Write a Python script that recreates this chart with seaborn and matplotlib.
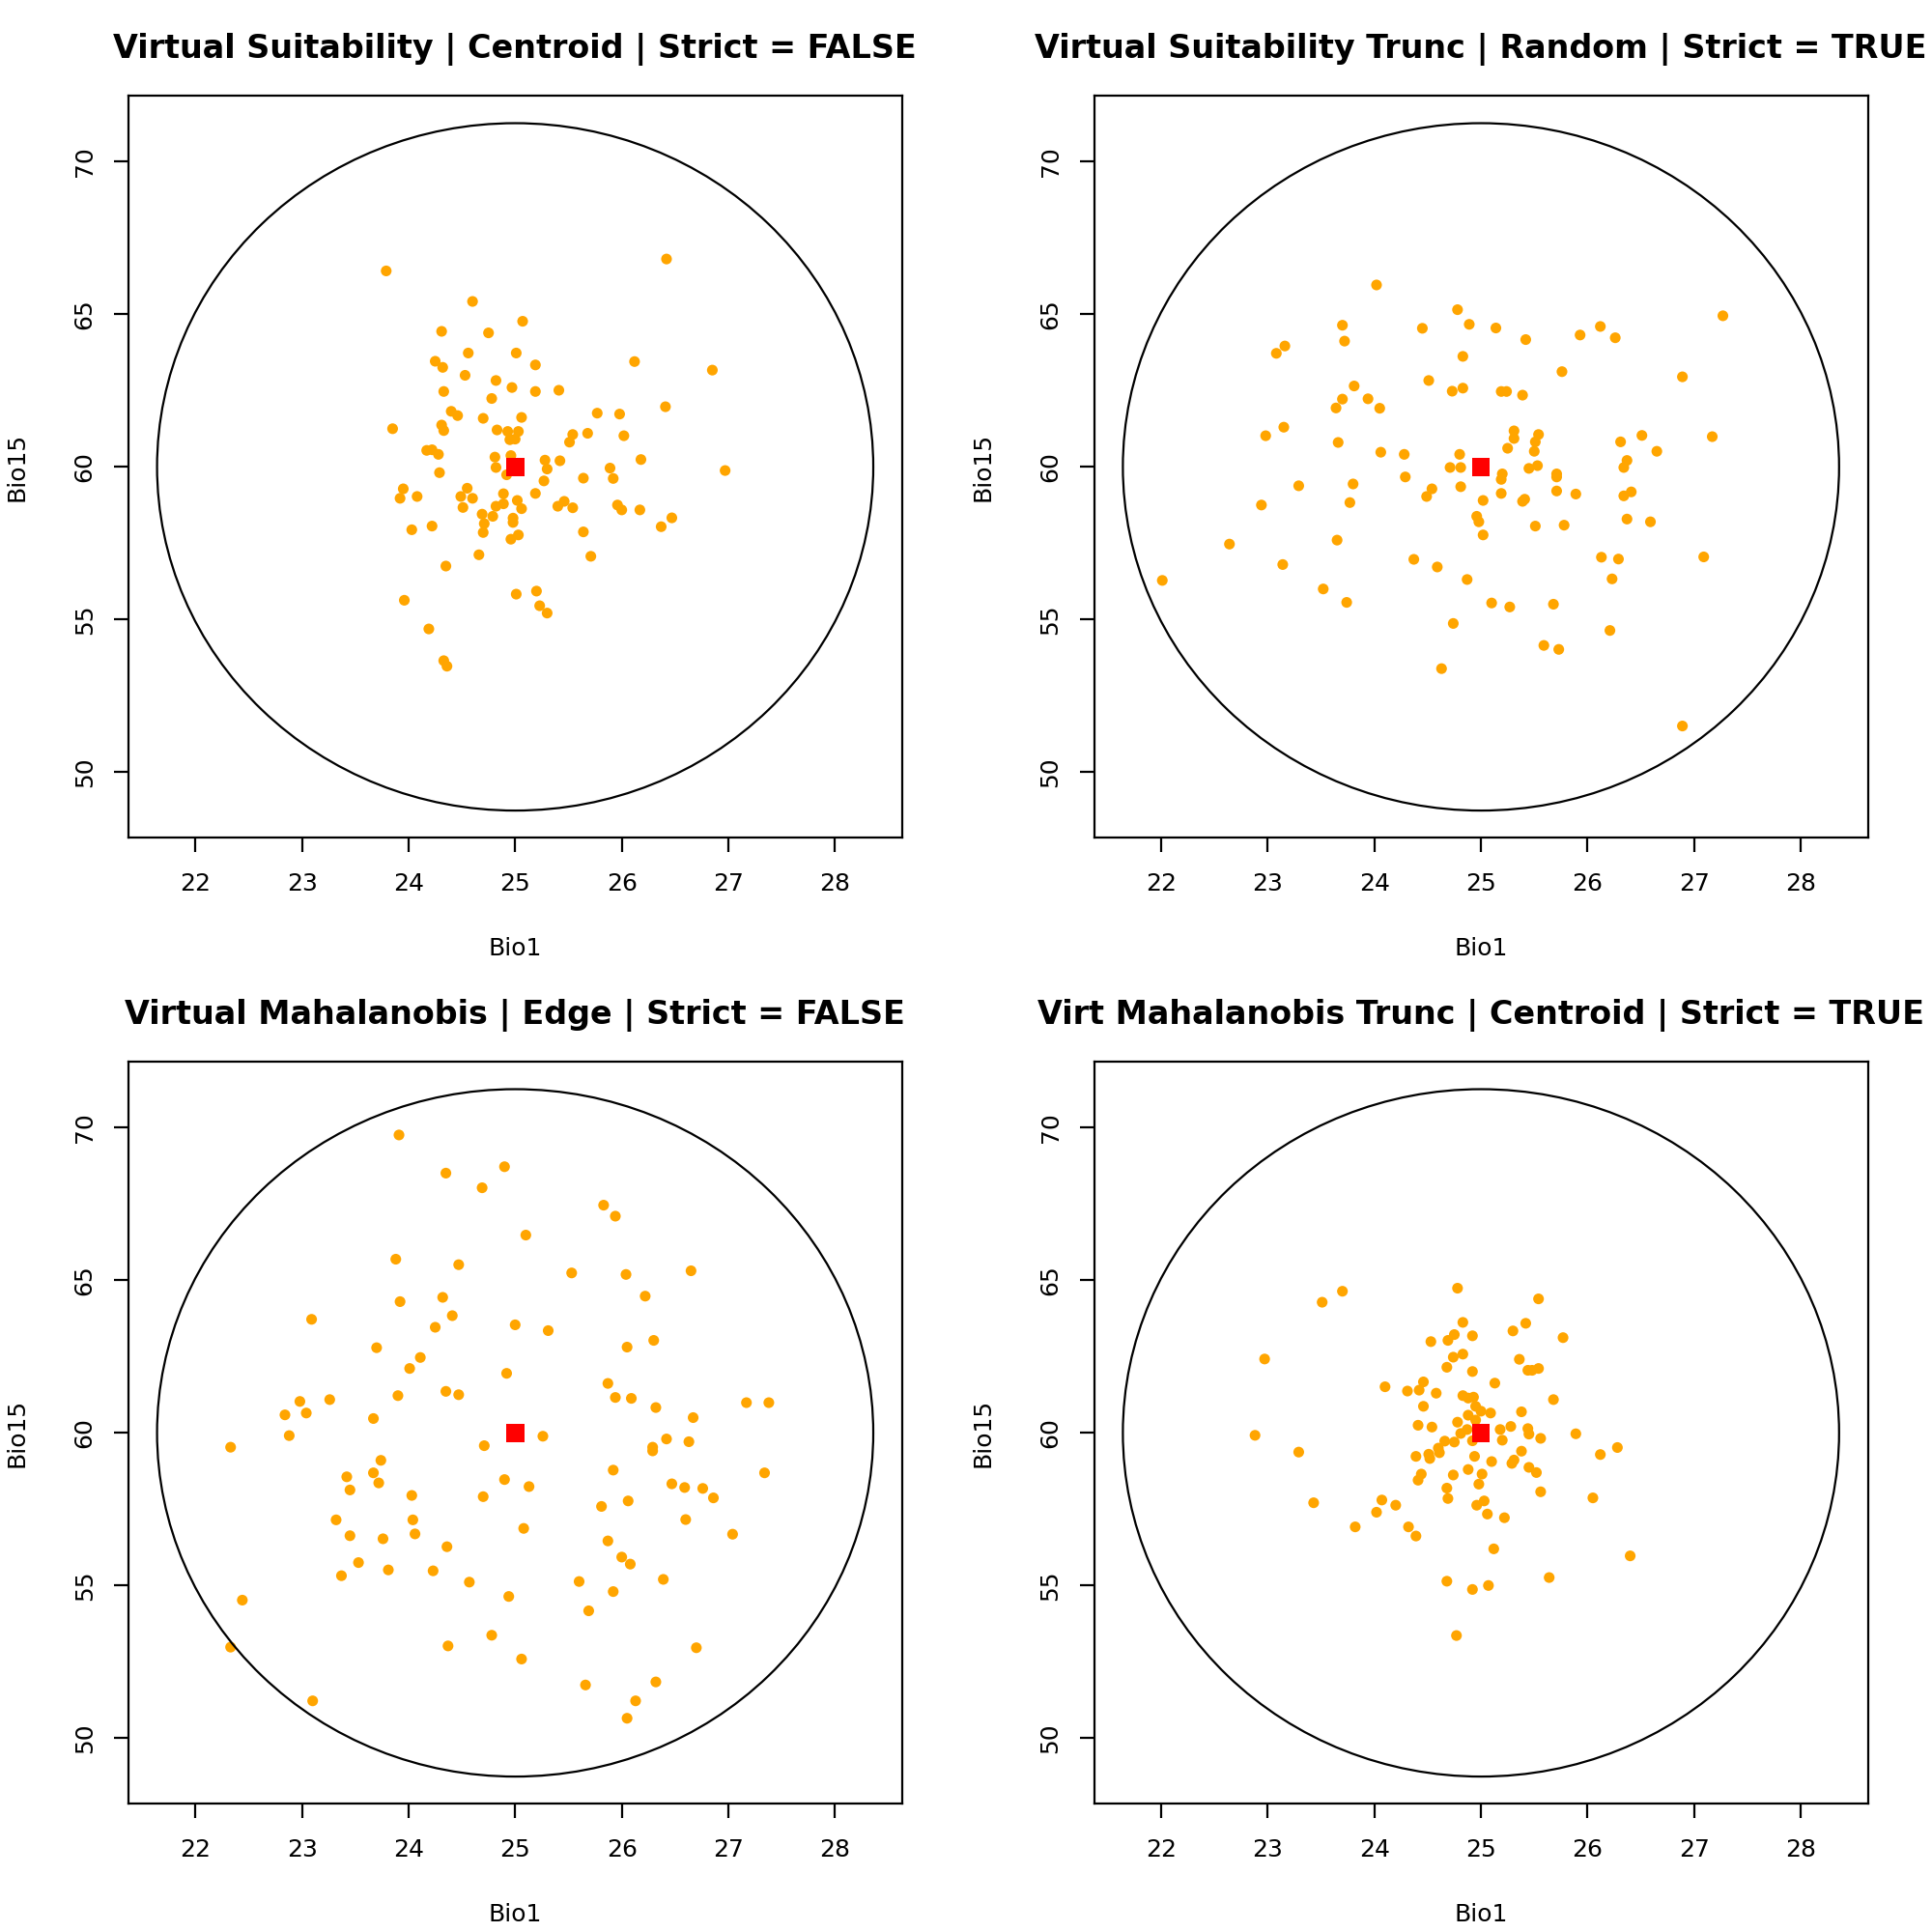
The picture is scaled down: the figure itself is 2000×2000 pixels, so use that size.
import numpy as np
import pandas as pd
import matplotlib
matplotlib.use("Agg")
import matplotlib.pyplot as plt
from matplotlib.patches import Ellipse
import seaborn as sns

# Painel 1: Virtual Suitability | Centroid | Strict = FALSE
p1_bio1 = [23.79, 26.42, 24.60, 25.07, 24.31, 24.75, 24.56, 25.01, 24.25, 24.32,
           25.19, 26.12, 26.85, 24.53, 24.82, 24.97, 25.19, 25.41, 24.33, 24.78,
           26.41, 25.77, 25.98, 24.40, 24.46, 24.70, 25.06, 23.85, 24.31, 24.33,
           24.83, 24.93, 25.03, 24.95, 25.00, 25.54, 25.68, 25.51, 26.02, 24.17,
           24.22, 24.28, 24.81, 24.96, 24.82, 25.28, 25.42, 25.30, 26.18, 26.97,
           24.29, 24.92, 25.89, 25.92, 25.27, 25.64, 23.95, 23.92, 24.08, 24.55,
           24.49, 24.60, 24.51, 24.89, 25.02, 25.19, 24.82, 24.89, 25.06, 24.69,
           24.79, 24.71, 24.70, 24.98, 24.98, 25.40, 25.46, 25.54, 25.96, 26.00,
           26.17, 26.47, 26.37, 24.03, 24.22, 25.64, 24.96, 25.03, 24.66, 25.71,
           24.35, 25.01, 25.20, 25.23, 25.30, 23.96, 24.19, 24.33, 24.36]
p1_bio15 = [66.42, 66.81, 65.42, 64.77, 64.44, 64.39, 63.73, 63.73, 63.46, 63.26,
            63.34, 63.45, 63.17, 63.00, 62.83, 62.60, 62.47, 62.51, 62.47, 62.24,
            61.97, 61.76, 61.73, 61.82, 61.68, 61.59, 61.62, 61.25, 61.37, 61.19,
            61.21, 61.16, 61.16, 60.89, 60.91, 61.06, 61.10, 60.81, 61.02, 60.54,
            60.56, 60.41, 60.32, 60.37, 59.98, 60.22, 60.20, 59.93, 60.24, 59.88,
            59.81, 59.74, 59.96, 59.62, 59.54, 59.63, 59.28, 58.97, 59.03, 59.30,
            59.03, 58.97, 58.67, 59.12, 58.90, 59.13, 58.71, 58.79, 58.63, 58.45,
            58.38, 58.14, 57.85, 58.32, 58.18, 58.71, 58.87, 58.66, 58.75, 58.59,
            58.59, 58.33, 58.04, 57.94, 58.06, 57.87, 57.63, 57.77, 57.12, 57.07,
            56.75, 55.83, 55.93, 55.45, 55.21, 55.63, 54.69, 53.65, 53.47]

# Painel 2: Virtual Suitability Trunc | Random | Strict = TRUE
p2_bio1 = [24.02, 23.70, 23.72, 24.45, 23.16, 23.08, 24.51, 23.81, 23.70, 23.94,
           23.64, 24.05, 23.15, 22.98, 23.66, 24.06, 24.28, 24.29, 24.54, 24.49,
           23.29, 23.80, 23.77, 22.94, 23.65, 22.64, 24.37, 23.14, 22.01, 23.52,
           23.74,
           24.78, 24.89, 25.14, 25.42, 25.93, 26.12, 26.26, 27.27, 24.83, 25.76,
           26.89, 24.73, 24.83, 25.19, 25.24, 25.39, 25.31, 25.31, 25.54, 25.51,
           25.25, 25.50, 26.31, 26.51, 26.65, 27.17, 24.80, 24.71, 24.81, 25.20,
           25.19, 25.45, 25.53, 25.71, 25.71, 26.37, 26.34, 24.81, 25.19, 25.02,
           25.39, 25.41, 25.71, 25.89, 26.34, 26.41, 24.96, 24.98, 25.02, 25.51,
           25.78, 26.37, 26.59, 26.13, 26.29, 27.09, 24.59, 24.87, 26.23, 25.10,
           25.27, 25.68, 24.74, 26.21, 25.59, 25.73, 24.63, 26.89]
p2_bio15 = [65.96, 64.64, 64.12, 64.54, 63.96, 63.72, 62.83, 62.65, 62.22, 62.23,
            61.93, 61.92, 61.30, 61.02, 60.80, 60.48, 60.41, 59.67, 59.28, 59.03,
            59.38, 59.44, 58.83, 58.75, 57.60, 57.47, 56.97, 56.80, 56.28, 56.00,
            55.56,
            65.15, 64.67, 64.55, 64.17, 64.32, 64.60, 64.23, 64.95, 63.62, 63.12,
            62.95, 62.48, 62.58, 62.47, 62.47, 62.35, 61.18, 60.93, 61.06, 60.82,
            60.61, 60.51, 60.82, 61.03, 60.51, 60.99, 60.41, 59.98, 59.98, 59.77,
            59.59, 59.95, 60.04, 59.77, 59.67, 60.21, 59.98, 59.35, 59.13, 58.90,
            58.87, 58.94, 59.21, 59.11, 59.05, 59.18, 58.38, 58.20, 57.77, 58.06,
            58.09, 58.29, 58.20, 57.04, 56.98, 57.05, 56.72, 56.31, 56.33, 55.54,
            55.41, 55.50, 54.87, 54.64, 54.15, 54.02, 53.39, 51.51]

# Painel 3: Virtual Mahalanobis | Edge | Strict = FALSE
p3_bio1 = [23.91, 24.35, 24.69, 23.88, 24.47, 23.92, 24.32, 24.41, 24.25, 23.09,
           23.70, 24.11, 24.01, 24.35, 24.47, 23.90, 22.98, 23.26, 22.84, 23.04,
           22.88, 23.67, 22.33, 24.71, 24.70, 23.74, 23.67, 23.72, 23.42, 23.45,
           24.03, 24.04, 24.06, 23.32, 23.45, 23.76, 24.36, 23.53, 23.37, 23.81,
           24.23, 24.57, 22.44, 22.33, 24.37, 24.78, 23.10,
           24.90, 25.83, 25.94, 25.10, 25.53, 26.04, 26.65, 26.22, 25.00, 25.31,
           26.05, 26.30, 24.92, 25.87, 25.94, 26.09, 26.32, 26.67, 27.17, 27.38,
           25.26, 26.29, 26.29, 26.42, 26.63, 27.34, 24.90, 25.13, 25.92, 26.47,
           26.59, 26.76, 26.86, 25.81, 26.06, 26.60, 27.04, 25.08, 25.87, 26.00,
           26.08, 26.39, 25.60, 25.92, 24.94, 25.69, 25.06, 26.70, 25.66, 26.32,
           26.13, 26.05]
p3_bio15 = [69.76, 68.51, 68.03, 65.69, 65.51, 64.30, 64.44, 63.84, 63.46, 63.72,
            62.79, 62.47, 62.11, 61.36, 61.25, 61.22, 61.03, 61.09, 60.59, 60.65,
            59.91, 60.47, 59.53, 59.58, 57.91, 59.10, 58.69, 58.36, 58.56, 58.13,
            57.95, 57.15, 56.69, 57.15, 56.63, 56.53, 56.27, 55.75, 55.32, 55.51,
            55.48, 55.11, 54.52, 52.98, 53.02, 53.37, 51.22,
            68.72, 67.46, 67.10, 66.48, 65.24, 65.19, 65.31, 64.48, 63.54, 63.35,
            62.81, 63.03, 61.95, 61.62, 61.16, 61.13, 60.83, 60.50, 60.99, 60.99,
            59.89, 59.53, 59.41, 59.80, 59.71, 58.69, 58.47, 58.24, 58.78, 58.33,
            58.21, 58.18, 57.87, 57.59, 57.77, 57.16, 56.68, 56.87, 56.46, 55.93,
            55.70, 55.20, 55.13, 54.80, 54.64, 54.17, 52.59, 52.96, 51.74, 51.84,
            51.22, 50.65]

# Painel 4: Virt Mahalanobis Trunc | Centroid | Strict = TRUE
p4_bio1 = [24.78, 23.70, 23.51, 25.54, 24.83, 25.42, 25.30, 25.77, 24.53, 24.69,
           24.75, 24.92, 22.97, 24.74, 24.83, 24.68, 24.92, 25.36, 25.44, 25.48,
           25.54, 24.46, 24.42, 24.10, 24.31, 24.58, 25.13, 24.46, 24.83, 24.88,
           24.93, 24.95, 25.00, 25.09, 25.68, 25.38, 24.88, 24.95, 24.78, 24.41,
           24.54, 24.87, 24.81, 25.18, 25.28, 25.44, 25.45, 25.56, 25.89, 22.88,
           25.20, 24.92, 24.75, 24.66, 24.60, 24.61, 24.51, 24.52, 24.39, 23.29,
           26.12, 26.28, 25.38, 24.94, 25.10, 25.31, 25.29, 25.45, 25.52, 24.44,
           24.41, 24.74, 24.88, 25.01, 24.98, 24.68, 24.69, 25.56, 26.05, 23.43,
           24.07, 24.20, 24.02, 25.03, 24.96, 25.06, 25.22, 23.82, 24.32, 24.39,
           25.12, 26.40, 25.64, 24.68, 24.92, 25.07, 24.77]
p4_bio15 = [64.74, 64.64, 64.28, 64.39, 63.62, 63.59, 63.34, 63.12, 62.99, 63.03,
            63.22, 63.18, 62.42, 62.48, 62.58, 62.15, 62.01, 62.41, 62.05, 62.05,
            62.11, 61.67, 61.40, 61.51, 61.37, 61.30, 61.63, 60.87, 61.22, 61.14,
            61.17, 60.87, 60.71, 60.65, 61.09, 60.69, 60.58, 60.42, 60.35, 60.25,
            60.19, 60.11, 59.98, 60.11, 60.21, 60.14, 59.96, 59.82, 59.97, 59.92,
            59.76, 59.74, 59.70, 59.73, 59.50, 59.35, 59.30, 59.16, 59.23, 59.37,
            59.29, 59.52, 59.40, 59.23, 59.06, 59.11, 59.00, 58.87, 58.70, 58.65,
            58.45, 58.62, 58.80, 58.65, 58.32, 58.19, 57.85, 58.07, 57.87, 57.71,
            57.80, 57.63, 57.40, 57.77, 57.63, 57.34, 57.22, 56.92, 56.92, 56.62,
            56.20, 55.97, 55.26, 55.14, 54.87, 55.00, 53.36]

titulos = ["Virtual Suitability | Centroid | Strict = FALSE",
           "Virtual Suitability Trunc | Random | Strict = TRUE",
           "Virtual Mahalanobis | Edge | Strict = FALSE",
           "Virt Mahalanobis Trunc | Centroid | Strict = TRUE"]

# centroide e elipse do nicho
centro = (25, 60)
raio_bio1 = 3.36
raio_bio15 = 11.26

xlim = (21.37, 28.63)
ylim = (47.85, 72.15)
xticks = [22, 23, 24, 25, 26, 27, 28]
yticks = [50, 55, 60, 65, 70]

sns.set_style("white")
plt.rcParams["font.family"] = ["DejaVu Sans"]
plt.rcParams["text.color"] = "black"
plt.rcParams["axes.labelcolor"] = "black"

fig = plt.figure(figsize=(10, 10), dpi=200)

# posicoes dos paineis [left, bottom, width, height]
posicoes = [[0.0664, 0.5664, 0.4005, 0.3839],
            [0.5663, 0.5664, 0.4005, 0.3839],
            [0.0664, 0.0664, 0.4005, 0.3839],
            [0.5663, 0.0664, 0.4005, 0.3839]]
y_titulo = [0.9745, 0.9745, 0.4745, 0.4745]

paineis = [(p1_bio1, p1_bio15), (p2_bio1, p2_bio15),
           (p3_bio1, p3_bio15), (p4_bio1, p4_bio15)]

for i, (b1, b15) in enumerate(paineis):
    ax = fig.add_axes(posicoes[i])
    df = pd.DataFrame({"Bio1": b1, "Bio15": b15})
    sns.scatterplot(data=df, x="Bio1", y="Bio15", ax=ax, color="#FFA500",
                    s=16, linewidth=0, edgecolor="none")
    ax.add_patch(Ellipse(centro, 2 * raio_bio1, 2 * raio_bio15, fill=False,
                         edgecolor="black", linewidth=0.8))
    sns.scatterplot(x=[centro[0]], y=[centro[1]], ax=ax, color="#FF0000",
                    marker="s", s=45, linewidth=0, edgecolor="none")
    ax.set_xlim(xlim)
    ax.set_ylim(ylim)
    ax.set_xticks(xticks)
    ax.set_yticks(yticks)
    ax.tick_params(axis="both", direction="out", length=5.4, width=0.8,
                   labelsize=9, colors="black", bottom=True, left=True)
    ax.tick_params(axis="x", pad=7.5)
    ax.tick_params(axis="y", pad=6.5)
    for lab in ax.get_yticklabels():
        lab.set_rotation(90)
        lab.set_va("center")
    ax.set_xlabel("Bio1", fontsize=9, labelpad=15.5)
    ax.set_ylabel("Bio15", fontsize=9, labelpad=16.5)
    for sp in ax.spines.values():
        sp.set_visible(True)
        sp.set_color("black")
        sp.set_linewidth(0.8)
    cx = posicoes[i][0] + posicoes[i][2] / 2
    fig.text(cx, y_titulo[i], titulos[i], ha="center", va="center",
             fontsize=12, fontweight="bold", color="black")

fig.savefig("out.png", dpi=200, facecolor="white")
